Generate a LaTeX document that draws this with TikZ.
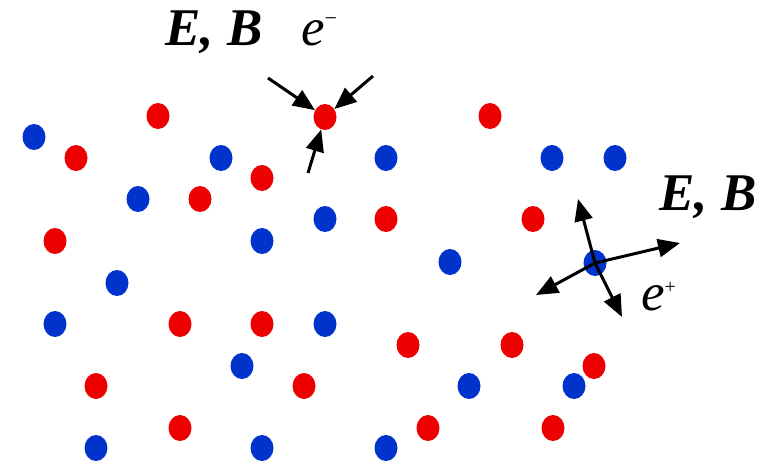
\documentclass[tikz,border=0pt]{standalone}
\usepackage{fontspec}
\setmainfont{Liberation Serif}
\usetikzlibrary{arrows.meta,shapes.geometric}
\definecolor{ionred}{RGB}{236,0,0}
\definecolor{ionblue}{RGB}{0,51,204}
\tikzset{
  red ion/.style={ellipse,fill=ionred,minimum width=23pt,minimum height=26pt,inner sep=0pt},
  blue ion/.style={red ion,fill=ionblue},
  field arrow/.style={-{Triangle[length=22pt,width=18pt]},line width=3pt},
  field label/.style={font=\fontsize{53}{60}\selectfont\bfseries\itshape,anchor=base west,inner sep=0pt},
  charge label/.style={font=\fontsize{53}{60}\selectfont\itshape,anchor=base west,inner sep=0pt},
}

\begin{document}
\begin{tikzpicture}[x=1pt,y=-1pt]
  \useasboundingbox (0,0) rectangle (778,464);
  % red ions
  \foreach \px/\py [count=\i] in {158/116,76/158,262/178,200/199,55/241,490/116,386/219,533/219,
      180/324,262/324,96/386,304/386,408/345,512/345,594/366,180/428,428/428,553/428}
    \node[red ion] (r\i) at (\px,\py) {};
  % blue ions
  \foreach \px/\py [count=\i] in {34/137,221/158,138/199,262/241,325/219,386/158,552/158,615/158,
      450/262,117/283,55/324,325/324,242/366,469/386,574/386,96/448,262/448,386/448}
    \node[blue ion] (b\i) at (\px,\py) {};
  % the electron and the positron
  \node[red ion] (em) at (325,117) {};
  \node[blue ion] (ep) at (595,263) {};
  \coordinate (em1) at (268,78);
  \coordinate (em2) at (373,76);
  \coordinate (em3) at (308,173);
  \draw[field arrow] (em1) -- (em);
  \draw[field arrow] (em2) -- (em);
  \draw[field arrow] (em3) -- (em);
  \coordinate (ep1) at (578,199);
  \coordinate (ep2) at (680,243);
  \coordinate (ep3) at (536,295);
  \coordinate (ep4) at (622,317);
  \foreach \c in {ep1,ep2,ep3,ep4}
    \draw[field arrow] (ep.center) -- (\c);
  % labels
  \node[field label] (fieldA) at (165,45) {E, B};
  \node[charge label] (chargeA) at (301,45) {e\raisebox{20pt}{\upshape\fontsize{22}{22}\selectfont −}};
  \node[field label] (fieldB) at (659,210) {E, B};
  \node[charge label] (chargeB) at (641,310) {e\raisebox{17pt}{\upshape\fontsize{20}{20}\selectfont +}};
\end{tikzpicture}
\end{document}
